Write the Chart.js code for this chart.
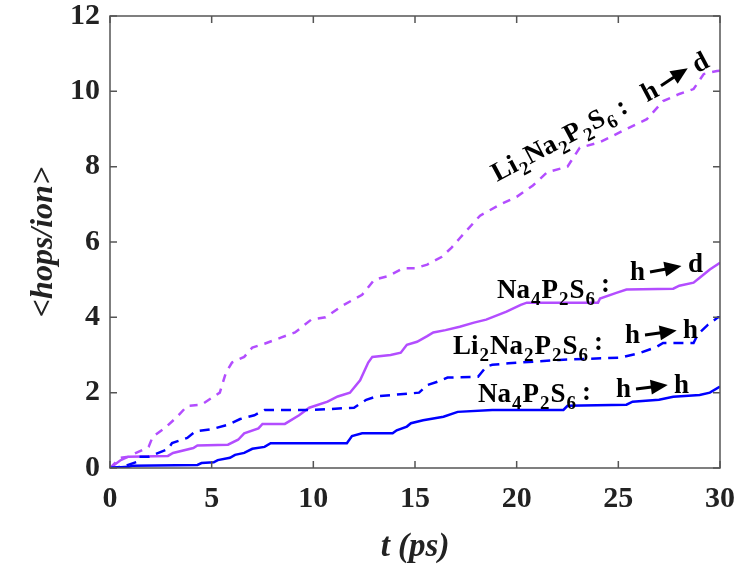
<!DOCTYPE html>
<html>
<head>
<meta charset="utf-8">
<script src="https://cdn.jsdelivr.net/npm/chart.js@4/dist/chart.umd.min.js"></script>
<style>
  html, body { margin: 0; padding: 0; background: #fff; }
  #wrap { width: 750px; height: 564px; }
</style>
</head>
<body>
<div id="wrap"><canvas id="c" width="750" height="564"></canvas></div>
<script>
// t (ps) and <hops/ion>
const liHdT = [0, 0.5, 0.9, 1.9, 2.1, 2.7, 3.3, 3.8, 4.5, 5.0, 5.4, 5.7, 6.0, 6.6, 7.0, 7.6, 8.4, 9.1, 9.9, 10.6, 11.4, 12.4, 13.0, 13.7, 14.4, 15.0, 15.6, 16.3, 16.8, 17.2, 18.2, 19.2, 20.0, 20.8, 21.5, 22.5, 23.1, 24.1, 25.4, 26.4, 27.2, 28.0, 28.7, 29.2, 29.85, 30];
const liHdV = [0, 0.27, 0.3, 0.56, 0.83, 1.06, 1.36, 1.65, 1.68, 1.86, 2.0, 2.53, 2.8, 2.95, 3.2, 3.3, 3.46, 3.6, 3.94, 4.0, 4.3, 4.6, 5.0, 5.1, 5.3, 5.3, 5.4, 5.6, 5.85, 6.1, 6.7, 7.0, 7.2, 7.5, 7.85, 8.0, 8.5, 8.65, 9.0, 9.26, 9.74, 9.93, 10.06, 10.46, 10.54, 10.55];

const naHdT = [0, 0.5, 0.9, 2.85, 3.1, 4.1, 4.3, 5.8, 6.3, 6.6, 7.3, 7.5, 8.6, 9.3, 9.8, 10.7, 11.2, 11.8, 12.3, 12.7, 12.9, 13.8, 14.3, 14.6, 15.1, 15.6, 15.9, 16.5, 17.2, 17.9, 18.5, 19.5, 20.2, 20.5, 24.0, 24.1, 24.9, 25.4, 27.7, 28.0, 28.7, 29.0, 29.5, 30];
const naHdV = [0, 0.2, 0.3, 0.32, 0.4, 0.53, 0.6, 0.62, 0.75, 0.92, 1.05, 1.17, 1.17, 1.4, 1.6, 1.76, 1.9, 2.0, 2.33, 2.8, 2.95, 3.0, 3.06, 3.27, 3.35, 3.5, 3.6, 3.66, 3.75, 3.86, 3.94, 4.15, 4.33, 4.39, 4.39, 4.5, 4.65, 4.74, 4.76, 4.84, 4.92, 5.05, 5.27, 5.45];

const liHhT = [0, 0.6, 1.3, 1.4, 1.9, 2.85, 3.05, 3.8, 4.2, 5.0, 5.8, 6.4, 7.1, 7.6, 9.9, 12.0, 12.6, 13.1, 15.2, 15.6, 16.1, 16.6, 18.1, 18.5, 18.8, 19.6, 22.1, 25.1, 26.1, 26.9, 27.2, 28.7, 28.9, 29.4, 29.9, 30];
const liHhV = [0, 0.03, 0.16, 0.3, 0.3, 0.5, 0.66, 0.8, 0.97, 1.03, 1.15, 1.3, 1.4, 1.54, 1.54, 1.6, 1.81, 1.9, 2.0, 2.2, 2.29, 2.4, 2.42, 2.69, 2.74, 2.78, 2.87, 2.93, 3.06, 3.22, 3.32, 3.32, 3.54, 3.8, 4.0, 4.0];

const naHhT = [0, 0.9, 1.1, 4.3, 4.5, 5.1, 5.3, 5.9, 6.15, 6.6, 7.0, 7.6, 7.9, 11.65, 11.9, 12.4, 13.9, 14.1, 14.6, 14.8, 15.4, 16.4, 17.1, 18.8, 22.3, 22.5, 25.4, 25.7, 27.0, 27.7, 29.0, 29.5, 30];
const naHhV = [0, 0.03, 0.06, 0.08, 0.13, 0.15, 0.21, 0.27, 0.35, 0.4, 0.51, 0.56, 0.66, 0.66, 0.85, 0.92, 0.92, 1.0, 1.1, 1.19, 1.27, 1.36, 1.49, 1.54, 1.54, 1.65, 1.68, 1.76, 1.81, 1.89, 1.94, 2.0, 2.16];

const xTicks = [0, 5, 10, 15, 20, 25, 30];
const yTicks = [0, 2, 4, 6, 8, 10, 12];

const VIOLET = "#b34dff";
const BLUE = "#0000ff";
const SERIF = "'Liberation Serif', 'Times New Roman', serif";

const pts = (t, v) => t.map((x, i) => ({ x: x, y: v[i] }));

// labels: [text, subscript?] pieces, then colon, h, arrow, end letter
// up1 / up2: how far "h" and the end letter sit above the formula baseline
const LI = [["Li", 0], ["2", 1], ["Na", 0], ["2", 1], ["P", 0], ["2", 1], ["S", 0], ["6", 1]];
const NA = [["Na", 0], ["4", 1], ["P", 0], ["2", 1], ["S", 0], ["6", 1]];
const notes = [
  { formula: LI, to: "d", x: 497, y: 182, rot: -28, gap: 20, up1: 0, up2: 2 },
  { formula: NA, to: "d", x: 497, y: 298, rot: 0, gap: 20, up1: 18, up2: 26 },
  { formula: LI, to: "h", x: 453, y: 354, rot: 0, gap: 22, up1: 11, up2: 16 },
  { formula: NA, to: "h", x: 478, y: 402, rot: 0, gap: 25, up1: 5, up2: 9 },
];

function drawNote(ctx, n) {
  const big = "bold 27px " + SERIF;
  const small = "bold 19px " + SERIF;
  ctx.save();
  ctx.translate(n.x, n.y);
  ctx.rotate(n.rot * Math.PI / 180);
  ctx.fillStyle = "#000";
  ctx.textBaseline = "alphabetic";
  ctx.textAlign = "left";
  let x = 0;
  n.formula.forEach(([s, sub]) => {
    ctx.font = sub ? small : big;
    ctx.fillText(s, x, sub ? 7 : 0);
    x += ctx.measureText(s).width + 1;
  });
  ctx.font = big;
  x += 5;
  ctx.fillText(":", x, -n.up1 / 3);
  x += ctx.measureText(":").width + n.gap;
  ctx.fillText("h", x, -n.up1);
  x += ctx.measureText("h").width + 5;
  // arrow
  const y1 = -8 - n.up1, y2 = -8 - (n.up1 + n.up2) / 2 - 2;
  const ang = Math.atan2(y2 - y1, 32);
  ctx.save();
  ctx.translate(x, y1);
  ctx.rotate(ang);
  ctx.strokeStyle = "#000";
  ctx.lineWidth = 3;
  ctx.beginPath();
  ctx.moveTo(0, 0);
  ctx.lineTo(18, 0);
  ctx.stroke();
  ctx.beginPath();
  ctx.moveTo(32, 0);
  ctx.lineTo(15, -7.5);
  ctx.lineTo(15, 7.5);
  ctx.closePath();
  ctx.fill();
  ctx.restore();
  x += 38;
  ctx.fillText(n.to, x, -n.up2);
  ctx.restore();
}

const frame = {
  id: "frame",
  afterDraw(chart) {
    const { ctx, chartArea: a, scales } = chart;
    ctx.save();
    ctx.strokeStyle = "#555";
    ctx.lineWidth = 1.5;
    ctx.strokeRect(a.left, a.top, a.right - a.left, a.bottom - a.top);
    ctx.beginPath();
    xTicks.forEach(t => {
      const px = scales.x.getPixelForValue(t);
      ctx.moveTo(px, a.bottom); ctx.lineTo(px, a.bottom - 7);
      ctx.moveTo(px, a.top); ctx.lineTo(px, a.top + 7);
    });
    yTicks.forEach(t => {
      const py = scales.y.getPixelForValue(t);
      ctx.moveTo(a.left, py); ctx.lineTo(a.left + 7, py);
      ctx.moveTo(a.right, py); ctx.lineTo(a.right - 7, py);
    });
    ctx.stroke();
    ctx.restore();
    notes.forEach(n => drawNote(ctx, n));
  }
};

new Chart(document.getElementById("c"), {
  type: "line",
  data: {
    datasets: [
      { data: pts(naHhT, naHhV), borderColor: BLUE, borderWidth: 2.5 },
      { data: pts(liHhT, liHhV), borderColor: BLUE, borderWidth: 2.5, borderDash: [10, 7] },
      { data: pts(naHdT, naHdV), borderColor: VIOLET, borderWidth: 2.5 },
      { data: pts(liHdT, liHdV), borderColor: VIOLET, borderWidth: 2.5, borderDash: [8, 7] },
    ],
  },
  options: {
    responsive: false,
    animation: false,
    layout: { padding: { top: 16, right: 30, left: 0, bottom: 0 } },
    elements: { point: { radius: 0 }, line: { tension: 0, fill: false } },
    plugins: { legend: { display: false }, tooltip: { enabled: false } },
    scales: {
      x: {
        type: "linear", min: 0, max: 30,
        afterBuildTicks: s => { s.ticks = xTicks.map(v => ({ value: v })); },
        afterFit: s => { s.height = 96; s.paddingLeft = 0; s.paddingRight = 0; },
        grid: { display: false, drawTicks: false },
        border: { display: false },
        ticks: { color: "#222", padding: 13, font: { family: SERIF, size: 30, weight: "bold" } },
        title: { display: true, text: "t (ps)", color: "#222", padding: { top: 0, bottom: 0 },
                 font: { family: SERIF, size: 33, weight: "bold", style: "italic", lineHeight: 1 } },
      },
      y: {
        min: 0, max: 12,
        afterBuildTicks: s => { s.ticks = yTicks.map(v => ({ value: v })); },
        afterFit: s => { s.width = 110; s.paddingTop = 0; s.paddingBottom = 0; },
        grid: { display: false, drawTicks: false },
        border: { display: false },
        ticks: { color: "#222", padding: 10, font: { family: SERIF, size: 30, weight: "bold", lineHeight: 1 } },
        title: { display: true, text: "<hops/ion>", color: "#222", padding: { top: 28, bottom: 0 },
                 font: { family: SERIF, size: 32, weight: "bold", style: "italic", lineHeight: 1 } },
      },
    },
  },
  plugins: [frame],
});
</script>
</body>
</html>
